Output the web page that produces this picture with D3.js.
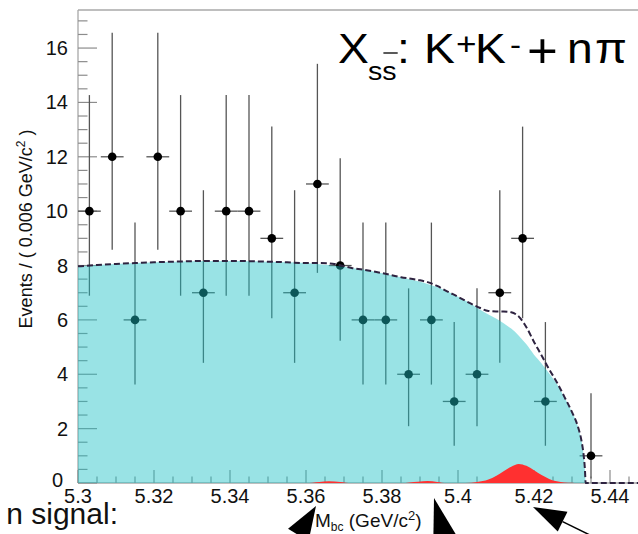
<!DOCTYPE html>
<html>
<head>
<meta charset="utf-8">
<script src="https://cdn.jsdelivr.net/npm/d3@7"></script>
<style>
  html, body { margin: 0; padding: 0; background: #ffffff; }
  svg { display: block; }
  text { font-family: "Liberation Sans", Arial, Helvetica, sans-serif; }
</style>
</head>
<body>
<svg id="chart" width="638" height="534"></svg>
<script>
// Histogram of M_bc: bin centres (bin width 0.006 GeV/c^2) and event counts
const binCenters = [5.303, 5.309, 5.315, 5.321, 5.327, 5.333, 5.339, 5.345, 5.351, 5.357,
                    5.363, 5.369, 5.375, 5.381, 5.387, 5.393, 5.399, 5.405, 5.411, 5.417,
                    5.423, 5.429, 5.435, 5.441, 5.447];
const counts     = [10, 12, 6, 12, 10, 7, 10, 10, 9, 7,
                    11, 8, 6, 6, 4, 6, 3, 4, 7, 9,
                    3, 0, 1, 0, 0];
// Poisson 68% interval bounds for each bin
const errLow  = [6.89, 8.58, 3.62, 8.58, 6.89, 4.42, 6.89, 6.89, 6.06, 4.42,
                 7.73, 5.23, 3.62, 3.62, 2.09, 3.62, 1.37, 2.09, 4.42, 6.06,
                 1.37, 0, 0.17, 0, 0];
const errHigh = [14.27, 16.56, 9.58, 16.56, 14.27, 10.77, 14.27, 14.27, 13.11, 10.77,
                 15.42, 11.95, 9.58, 9.58, 7.16, 9.58, 5.92, 7.16, 10.77, 13.11,
                 5.92, 1.84, 3.30, 1.84, 1.84];
const binWidth = 0.006;

// Fit components sampled along M_bc
const massGrid = [5.300, 5.305, 5.310, 5.315, 5.320, 5.325, 5.330, 5.335, 5.340, 5.345,
                  5.350, 5.355, 5.360, 5.3635, 5.366, 5.369, 5.372, 5.375, 5.380, 5.385,
                  5.3895, 5.392, 5.3945, 5.397, 5.400, 5.402, 5.405, 5.408, 5.410, 5.412,
                  5.414, 5.416, 5.418, 5.420, 5.422, 5.424, 5.426, 5.428, 5.430, 5.4315,
                  5.4325, 5.433, 5.4334, 5.4336, 5.440, 5.450];
const background = [7.97, 8.02, 8.06, 8.09, 8.12, 8.14, 8.16, 8.17, 8.17, 8.16,
                    8.14, 8.12, 8.09, 8.05, 8.02, 7.97, 7.91, 7.85, 7.72, 7.57,
                    7.42, 7.32, 7.21, 7.06, 6.85, 6.70, 6.45, 6.20, 6.05, 5.88,
                    5.68, 5.42, 5.10, 4.72, 4.40, 4.03, 3.65, 3.15, 2.60, 2.10,
                    1.55, 1.10, 0.50, 0, 0, 0];
const signal = [0, 0, 0, 0, 0, 0, 0, 0, 0, 0,
                0, 0, 0, 0.04, 0.06, 0.04, 0, 0, 0, 0,
                0.05, 0.07, 0.04, 0, 0, 0, 0.04, 0.13, 0.26, 0.43,
                0.60, 0.70, 0.63, 0.47, 0.29, 0.15, 0.06, 0.02, 0.01, 0,
                0, 0, 0, 0, 0, 0];

const yMajorTicks = [0, 2, 4, 6, 8, 10, 12, 14, 16];
const xMajorTicks = [5.30, 5.32, 5.34, 5.36, 5.38, 5.40, 5.42, 5.44];
const xTickLabels = ["5.3", "5.32", "5.34", "5.36", "5.38", "5.4", "5.42", "5.44"];

const svg = d3.select("#chart");

const x = d3.scaleLinear().domain([5.30, 5.45]).range([78, 648]);
const y = d3.scaleLinear().domain([0, 17.4]).range([483, 10]);

const frameColor = "#a8a8a8";
const tickColor = "#8c8c8c";

// Frame: top edge, left axis, bottom axis
const frame = svg.append("g");
frame.append("line").attr("x1", x(5.30)).attr("x2", 638).attr("y1", y(17.4)).attr("y2", y(17.4))
  .attr("stroke", frameColor).attr("stroke-width", 1.3);
frame.append("line").attr("x1", x(5.30)).attr("x2", x(5.30)).attr("y1", y(17.4)).attr("y2", y(0))
  .attr("stroke", frameColor).attr("stroke-width", 1.3);
frame.append("line").attr("x1", x(5.30)).attr("x2", 638).attr("y1", y(0)).attr("y2", y(0))
  .attr("stroke", frameColor).attr("stroke-width", 1.3);

// Y ticks (major every 2, minor every 0.5)
const yMinor = d3.range(0, 17.01, 0.5);
frame.selectAll("line.ytick").data(yMinor).join("line")
  .attr("x1", x(5.30))
  .attr("x2", d => x(5.30) + (d % 2 === 0 ? 19 : 9.5))
  .attr("y1", d => y(d)).attr("y2", d => y(d))
  .attr("stroke", tickColor).attr("stroke-width", 1.2);

// X ticks (major every 0.02, minor every 0.005)
const xMinor = d3.range(0, 31).map(i => 5.30 + i * 0.005);
frame.selectAll("line.xtick").data(xMinor).join("line")
  .attr("x1", d => x(d)).attr("x2", d => x(d))
  .attr("y1", y(0))
  .attr("y2", (d, i) => y(0) - (i % 4 === 0 ? 13 : 6.5))
  .attr("stroke", tickColor).attr("stroke-width", 1.2);

// Data points with error bars
const pts = binCenters.map((c, i) => ({ c, n: counts[i], lo: errLow[i], hi: errHigh[i] }))
  .filter(d => d.n > 0);
const dataG = svg.append("g");
dataG.selectAll("line.ev").data(pts).join("line")
  .attr("x1", d => x(d.c)).attr("x2", d => x(d.c))
  .attr("y1", d => y(d.lo)).attr("y2", d => y(d.hi))
  .attr("stroke", "#555").attr("stroke-width", 1.3);
dataG.selectAll("line.eh").data(pts).join("line")
  .attr("x1", d => x(d.c - binWidth / 2)).attr("x2", d => x(d.c + binWidth / 2))
  .attr("y1", d => y(d.n)).attr("y2", d => y(d.n))
  .attr("stroke", "#555").attr("stroke-width", 1.3);
dataG.selectAll("circle").data(pts).join("circle")
  .attr("cx", d => x(d.c)).attr("cy", d => y(d.n)).attr("r", 4.3)
  .attr("fill", "#000");

// Fit curves
const curve = massGrid.map((m, i) => ({ m, b: background[i], s: signal[i], t: background[i] + signal[i] }));

svg.append("path").datum(curve)
  .attr("d", d3.area().x(d => x(d.m)).y0(y(0)).y1(d => y(d.b)).curve(d3.curveMonotoneX))
  .attr("fill", "rgb(29,193,198)").attr("fill-opacity", 0.45);

svg.append("path").datum(curve)
  .attr("d", d3.area().x(d => x(d.m)).y0(y(0)).y1(d => y(d.s)).curve(d3.curveMonotoneX))
  .attr("fill", "#ff3030");

svg.append("path").datum(curve)
  .attr("d", d3.line().x(d => x(d.m)).y(d => y(d.t)).curve(d3.curveMonotoneX))
  .attr("fill", "none").attr("stroke", "#2e2340").attr("stroke-width", 2)
  .attr("stroke-dasharray", "6 3");

// Axis labels
const yl = svg.append("g");
yl.selectAll("text").data(yMajorTicks).join("text")
  .attr("x", d => d === 0 ? 63 : 68)
  .attr("y", d => d === 0 ? 487 : y(d) + 7)
  .attr("text-anchor", "end")
  .attr("font-size", 20)
  .attr("fill", "#111")
  .text(d => d);

const xl = svg.append("g");
xl.selectAll("text").data(xMajorTicks).join("text")
  .attr("x", d => x(d))
  .attr("y", 503)
  .attr("text-anchor", "middle")
  .attr("font-size", 20)
  .attr("fill", "#111")
  .text((d, i) => xTickLabels[i]);

// Y axis title
const yt = svg.append("text")
  .attr("transform", "translate(32,229) rotate(-90)")
  .attr("text-anchor", "middle")
  .attr("font-size", 18)
  .attr("fill", "#111");
yt.append("tspan").text("Events / ( 0.006 GeV/c");
yt.append("tspan").attr("font-size", 12).attr("dy", -7).text("2");
yt.append("tspan").attr("dy", 7).text(" )");

// X axis title
const xt = svg.append("text")
  .attr("x", 315).attr("y", 527)
  .attr("font-size", 19).attr("fill", "#111");
xt.append("tspan").text("M");
xt.append("tspan").attr("font-size", 12).attr("dy", 4).text("bc");
xt.append("tspan").attr("dy", -4).text(" (GeV/c");
xt.append("tspan").attr("font-size", 13).attr("dy", -7).text("2");
xt.append("tspan").attr("dy", 7).text(")");

// Title: X_{s sbar}: K+K- + n pi  (slightly widened lettering)
const sx = 1.1;
const tg = svg.append("g").attr("transform", `scale(${sx},1)`);
const title = tg.append("text").attr("font-size", 42).attr("fill", "#000");
const parts = [
  { t: "X",  x: 338, y: 63, fs: 42 },
  { t: "ss", x: 368, y: 80, fs: 26 },
  { t: ":",  x: 397, y: 63, fs: 42 },
  { t: "K",  x: 424, y: 63, fs: 42 },
  { t: "+",  x: 456, y: 55, fs: 32 },
  { t: "K",  x: 475, y: 63, fs: 42 },
  { t: "-",  x: 510, y: 55, fs: 30 },
  { t: "+",  x: 527, y: 67, fs: 48 },
  { t: "n",  x: 567, y: 63, fs: 42 },
  { t: "π",  x: 595, y: 63, fs: 42 }
];
parts.forEach(p => {
  title.append("tspan").attr("x", p.x / sx).attr("y", p.y).attr("font-size", p.fs).text(p.t);
});
const sbar = title.node().getExtentOfChar(2);
tg.append("line")
  .attr("x1", sbar.x + 1).attr("x2", sbar.x + sbar.width + 1)
  .attr("y1", 53).attr("y2", 53)
  .attr("stroke", "#000").attr("stroke-width", 1.3);

// Slide text below the plot
svg.append("text")
  .attr("x", 118).attr("y", 524)
  .attr("text-anchor", "end")
  .attr("font-size", 30).attr("fill", "#111")
  .text("n signal:");

// Slide arrows pointing at the plot
const arrows = [
  { tip: [316, 506], tail: [280, 565], head: 34, half: 12, w: 2 },
  { tip: [434, 498], tail: [452, 565], head: 42, half: 12, w: 2 },
  { tip: [533, 507], tail: [600, 540], head: 33, half: 11, w: 1.5 }
];
const ag = svg.append("g");
arrows.forEach(a => {
  const dx = a.tail[0] - a.tip[0], dy = a.tail[1] - a.tip[1];
  const L = Math.hypot(dx, dy), ux = dx / L, uy = dy / L;
  const bx = a.tip[0] + ux * a.head, by = a.tip[1] + uy * a.head;
  ag.append("line").attr("x1", bx).attr("y1", by).attr("x2", a.tail[0]).attr("y2", a.tail[1])
    .attr("stroke", "#000").attr("stroke-width", a.w);
  ag.append("path")
    .attr("d", `M${a.tip[0]},${a.tip[1]}L${bx - uy * a.half},${by + ux * a.half}L${bx + uy * a.half},${by - ux * a.half}Z`)
    .attr("fill", "#000");
});
</script>
</body>
</html>
